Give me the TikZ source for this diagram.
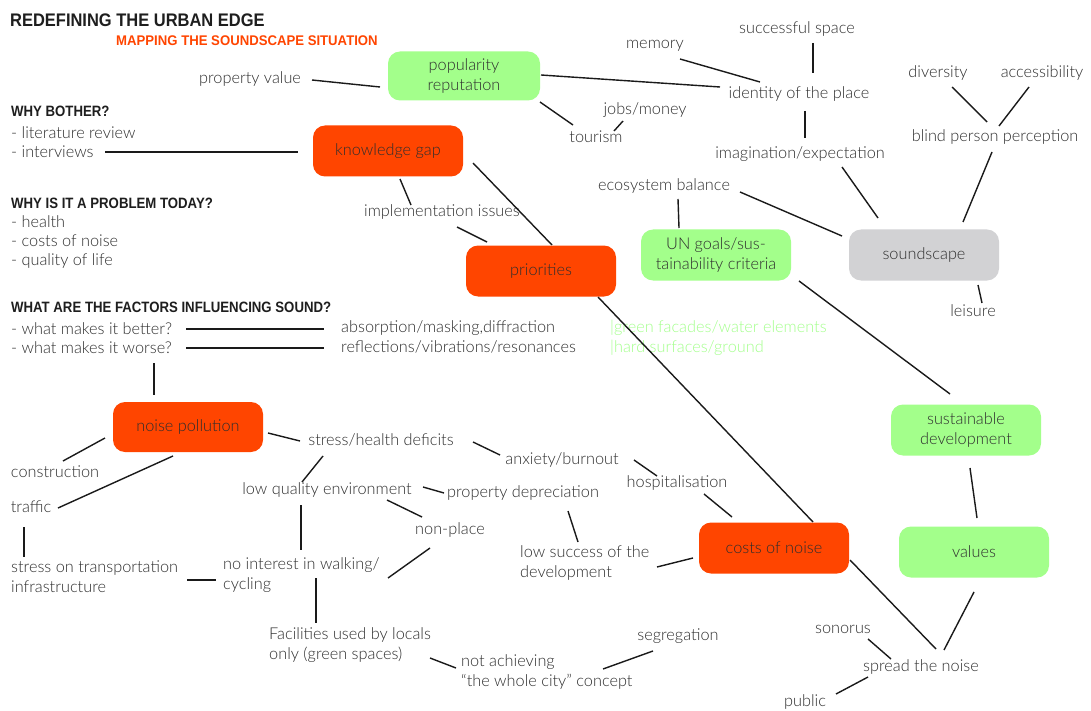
\documentclass[tikz,border=0pt]{standalone}
\usepackage{fontspec}
\usepackage{graphicx}
\setmainfont{Lato}[UprightFont=* Light]
\newfontfamily\hfam{Liberation Sans}
\newcommand\bodyfont{\fontsize{16.3}{20}\selectfont}
\newcommand\headfont{\hfam\bfseries\fontsize{15}{18}\selectfont}
\definecolor{nred}{HTML}{FF4500}
\definecolor{ngreen}{HTML}{A3FF8B}
\definecolor{ngrey}{HTML}{D2D2D4}
\definecolor{ink}{HTML}{2E2E2E}
\definecolor{headclr}{HTML}{1E1E1E}
\definecolor{lineclr}{HTML}{1A1A1A}
\tikzset{
  txt/.style={inner sep=0pt, font=\bodyfont, text=ink},
  ltxt/.style={txt, anchor=west, align=left},
  box/.style={rounded corners=12pt, minimum width=150pt, minimum height=51pt,
    inner sep=2pt, align=center, font=\bodyfont, text=ink},
  redbox/.style={box, fill=nred},
  greenbox/.style={box, fill=ngreen},
  greybox/.style={box, fill=ngrey},
  head/.style={inner sep=0pt, anchor=west, font=\headfont, text=headclr},
  link/.style={draw=lineclr, line width=1.4pt},
}
\begin{document}
\begin{tikzpicture}[x=1pt,y=-1pt]
\useasboundingbox (0,0) rectangle (1091,711);
\fill[white] (0,0) rectangle (1091,711);

% titles
\node[inner sep=0pt, anchor=west, text=headclr, font=\hfam\bfseries\fontsize{18.2}{20}\selectfont] (title) at (10,20) {\scalebox{0.905}[1]{REDEFINING THE URBAN EDGE}};
\node[inner sep=0pt, anchor=west, text=nred, font=\hfam\bfseries\fontsize{14}{16}\selectfont] (subtitle) at (116,41) {\scalebox{0.94}[1]{MAPPING THE SOUNDSCAPE SITUATION}};

% left column
\node[head] (why1) at (11,111) {\scalebox{0.88}[1]{WHY BOTHER?}};
\node[ltxt] (lit) at (11,133) {- literature review};
\node[ltxt] (interviews) at (11,152) {- interviews};
\node[head] (why2) at (11,203) {\scalebox{0.88}[1]{WHY IS IT A PROBLEM TODAY?}};
\node[ltxt] (health) at (11,222) {- health};
\node[ltxt] (costsl) at (11,241) {- costs of noise};
\node[ltxt] (quality) at (11,261) {- quality of life};
\node[head] (why3) at (11,307) {\scalebox{0.88}[1]{WHAT ARE THE FACTORS INFLUENCING SOUND?}};
\node[ltxt] (better) at (11,329) {- what makes it better?};
\node[ltxt] (worse) at (11,348) {- what makes it worse?};
\node[ltxt] (absorb) at (341,328) {absorption/masking,diffraction};
\node[ltxt] (reflect) at (341,347) {reflections/vibrations/resonances};
\node[ltxt, text=ngreen] (green1) at (610,328) {|green facades/water elements};
\node[ltxt, text=ngreen] (green2) at (610,348) {|hard surfaces/ground};

% boxes
\node[greenbox, minimum width=152pt, minimum height=49pt] (pop) at (464,76) {popularity\\reputation};
\node[redbox] (kgap) at (388,151) {knowledge gap};
\node[redbox] (prior) at (541,271) {priorities};
\node[greenbox] (un) at (716,255) {UN goals/sus-\\tainability criteria};
\node[greybox] (sound) at (924,255) {soundscape};
\node[greenbox] (sust) at (966,430) {sustainable\\development};
\node[greenbox] (values) at (974,552) {values};
\node[redbox] (costs) at (774,548) {costs of noise};
\node[redbox, minimum height=50pt] (noise) at (188,427) {noise pollution};

% upper labels
\node[txt] (propval) at (250,79) {property value};
\node[txt] (memory) at (655,46) {memory};
\node[txt] (success) at (797,29) {successful space};
\node[txt] (identity) at (799,94) {identity of the place};
\node[txt] (jobs) at (645,110) {jobs/money};
\node[txt] (tourism) at (596,137) {tourism};
\node[txt] (imagin) at (800,154) {imagination/expectation};
\node[txt] (eco) at (664,186) {ecosystem balance};
\node[txt] (diversity) at (938,73) {diversity};
\node[txt] (access) at (1042,73) {accessibility};
\node[txt] (blind) at (995,137) {blind person perception};
\node[txt] (leisure) at (973,311) {leisure};
\node[txt] (impl) at (442,212) {implementation issues};

% lower labels
\node[txt] (construction) at (55,472) {construction};
\node[txt] (traffic) at (31,507) {traffic};
\node[ltxt] (stressinfra) at (11,577) {stress on transportation\\infrastructure};
\node[ltxt] (nointerest) at (223,575) {no interest in walking/\\cycling};
\node[txt] (stresshealth) at (381,440) {stress/health deficits};
\node[txt] (anxiety) at (562,460) {anxiety/burnout};
\node[txt] (lowqual) at (327,490) {low quality environment};
\node[txt] (propdep) at (523,493) {property depreciation};
\node[txt] (nonplace) at (450,530) {non-place};
\node[ltxt] (lowsucc) at (520,563) {low success of the\\development};
\node[txt] (hosp) at (677,483) {hospitalisation};
\node[ltxt] (facilities) at (269,645) {Facilities used by locals\\only (green spaces)};
\node[ltxt] (notach) at (461,672) {not achieving\\“the whole city” concept};
\node[txt] (segregation) at (678,636) {segregation};
\node[txt] (sonorus) at (843,629) {sonorus};
\node[txt] (spread) at (921,667) {spread the noise};
\node[txt] (public) at (805,702) {public};

% connectors, upper part
\draw[link] ([shift={(62,1)}]propval.center) -- ([shift={(-84,11)}]pop.center);
\draw[link] ([shift={(77,-1)}]pop.center) -- ([shift={(-79,-7)}]identity.center);
\draw[link] ([shift={(25,13)}]memory.center) -- ([shift={(-39,-12)}]identity.center);
\draw[link] ([shift={(16,14)}]success.center) -- ([shift={(14,-21)}]identity.center);
\draw[link] ([shift={(76,26)}]pop.center) -- ([shift={(-23,-12)}]tourism.center);
\draw[link] ([shift={(18,-6)}]tourism.center) -- ([shift={(-22,11)}]jobs.center);
\draw[link] ([shift={(6,17)}]identity.center) -- ([shift={(5,-16)}]imagin.center);
\draw[link] ([shift={(42,13)}]imagin.center) -- ([shift={(-46,-37)}]sound.center);
\draw[link] ([shift={(76,6)}]eco.center) -- ([shift={(-82,-19)}]sound.center);
\draw[link] ([shift={(14,13)}]eco.center) -- ([shift={(-37,-27)}]un.center);
\draw[link] ([shift={(14,14)}]diversity.center) -- ([shift={(-8,-15)}]blind.center);
\draw[link] ([shift={(-13,14)}]access.center) -- ([shift={(4,-11)}]blind.center);
\draw[link] ([shift={(-3,15)}]blind.center) -- ([shift={(39,-33)}]sound.center);
\draw[link] ([shift={(54,30)}]sound.center) -- ([shift={(9,-8)}]leisure.center);
\draw[link] ([shift={(83,26)}]un.center) -- ([shift={(-16,-36)}]sust.center);
\draw[link] ([shift={(4,38)}]sust.center) -- ([shift={(3,-34)}]values.center);
\draw[link] ([shift={(0,40)}]values.center) -- ([shift={(23,-17)}]spread.center);
\draw[link] ([shift={(76,12)}]costs.center) -- ([shift={(15,-18)}]spread.center);
\draw[link] ([shift={(25,10)}]sonorus.center) -- ([shift={(-30,-8)}]spread.center);
\draw[link] ([shift={(31,-8)}]public.center) -- ([shift={(-53,10)}]spread.center);
\draw[link] ([shift={(57,26)}]prior.center) -- ([shift={(39,-26)}]costs.center);
\draw[link] ([shift={(85,12)}]kgap.center) -- ([shift={(11,-26)}]prior.center);
\draw[link] ([shift={(12,28)}]kgap.center) -- ([shift={(-31,-7)}]impl.center);
\draw[link] ([shift={(15,15)}]impl.center) -- ([shift={(-54,-29)}]prior.center);

% connectors, left column
\draw[link] ([shift={(94,0)}]interviews.west) -- ([shift={(-90,1)}]kgap.center);
\draw[link] ([shift={(175,0)}]better.west) -- ([shift={(-17,1)}]absorb.west);
\draw[link] ([shift={(175,0)}]worse.west) -- ([shift={(-17,1)}]reflect.west);
\draw[link] ([shift={(143,15)}]worse.west) -- ([shift={(-34,-32)}]noise.center);

% connectors, lower part
\draw[link] ([shift={(-83,11)}]noise.center) -- ([shift={(8,-11)}]construction.center);
\draw[link] ([shift={(-15,29)}]noise.center) -- ([shift={(27,1)}]traffic.center);
\draw[link] ([shift={(-7,20)}]traffic.center) -- ([shift={(13,-20)}]stressinfra.west);
\draw[link] ([shift={(176,3)}]stressinfra.west) -- ([shift={(-7,5)}]nointerest.west);
\draw[link] ([shift={(80,6)}]noise.center) -- ([shift={(-81,1)}]stresshealth.center);
\draw[link] ([shift={(92,2)}]stresshealth.center) -- ([shift={(-62,-5)}]anxiety.center);
\draw[link] ([shift={(72,0)}]anxiety.center) -- ([shift={(-20,-7)}]hosp.center);
\draw[link] ([shift={(27,11)}]hosp.center) -- ([shift={(-42,-31)}]costs.center);
\draw[link] ([shift={(-58,16)}]stresshealth.center) -- ([shift={(-25,-8)}]lowqual.center);
\draw[link] ([shift={(96,-3)}]lowqual.center) -- ([shift={(-79,0)}]propdep.center);
\draw[link] ([shift={(60,10)}]lowqual.center) -- ([shift={(-28,-13)}]nonplace.center);
\draw[link] ([shift={(-26,15)}]lowqual.center) -- ([shift={(78,-25)}]nointerest.west);
\draw[link] ([shift={(-20,18)}]nonplace.center) -- ([shift={(165,3)}]nointerest.west);
\draw[link] ([shift={(45,18)}]propdep.center) -- ([shift={(58,-21)}]lowsucc.west);
\draw[link] ([shift={(137,4)}]lowsucc.west) -- ([shift={(-81,10)}]costs.center);
\draw[link] ([shift={(93,3)}]nointerest.west) -- ([shift={(47,-22)}]facilities.west);
\draw[link] ([shift={(161,13)}]facilities.west) -- ([shift={(-5,-4)}]notach.west);
\draw[link] ([shift={(142,-3)}]notach.west) -- ([shift={(-25,15)}]segregation.center);
\end{tikzpicture}
\end{document}
